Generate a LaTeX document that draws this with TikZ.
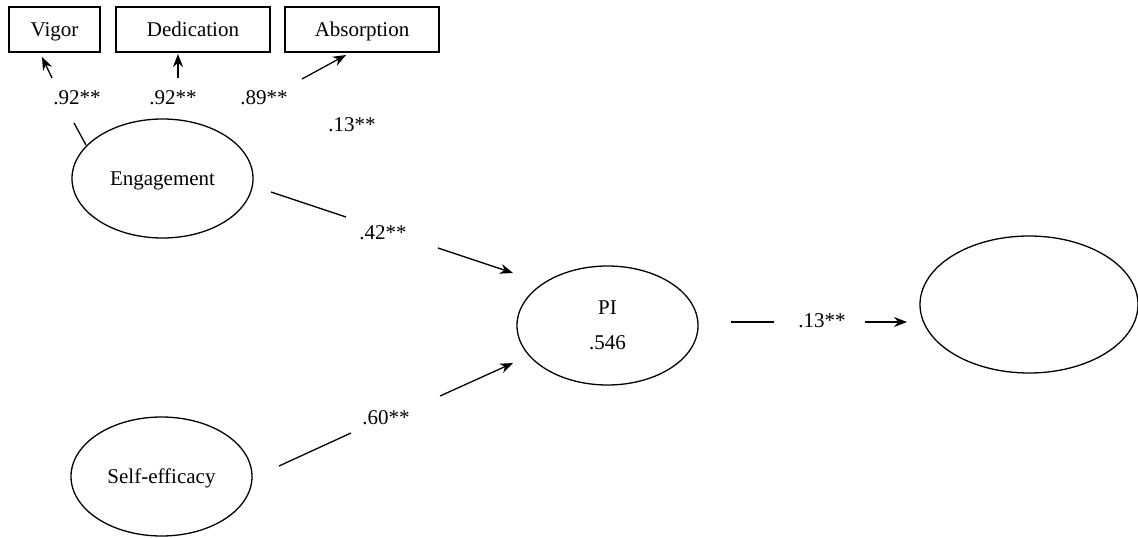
\documentclass[tikz,border=0pt]{standalone}
\usepackage{fontspec}
\setmainfont{Liberation Serif}
\usepackage{tikz}
\usetikzlibrary{shapes.geometric,arrows.meta}
\tikzstyle{sem}=[
  x=1pt,y=-1pt,line width=1.3pt,font=\fontsize{21}{25}\selectfont,
  >={Stealth[length=13pt,width=10pt]}
]
\tikzstyle{item}=[
  draw,rectangle,inner sep=0pt,minimum height=45pt,text depth=0pt
]
\tikzstyle{latent}=[
  draw,ellipse,inner sep=0pt,minimum width=181pt,minimum height=119pt,text depth=0pt
]
\tikzstyle{coef}=[
  inner sep=0pt,text depth=0pt
]

\begin{document}
\begin{tikzpicture}[sem]
  \useasboundingbox (0,0) rectangle (1138,538);
  % indicators
  \node (vig) at (54.5,29.5) [item,minimum width=91pt] {Vigor};
  \node (ded) at (193,29.5) [item,minimum width=154pt] {Dedication};
  \node (abs) at (362,29.5) [item,minimum width=154pt] {Absorption};
  % latent variables
  \node (eng) at (162.5,178.5) [latent] {Engagement};
  \node (se) at (161.5,476.5) [latent] {Self-efficacy};
  \node (pi) at (607.5,325.5) [latent,align=center] {PI\\[10pt].546};
  \node (out) at (1029,304.5) [latent,minimum width=218pt,minimum height=137pt] {};
  % coefficients
  \node (c1) at (77,98) [coef] {.92**};
  \node (c2) at (173,98) [coef] {.92**};
  \node (c3) at (264,98) [coef] {.89**};
  \node (c4) at (352,125) [coef] {.13**};
  \node (c5) at (383,233) [coef] {.42**};
  \node (c6) at (386,418) [coef] {.60**};
  \node (c7) at (822,321) [coef] {.13**};
  % gap ends
  \coordinate (v0) at (86,145); \coordinate (v1) at (74,123);
  \coordinate (v2) at (52,78); \coordinate (v3) at (42,57);
  \coordinate (d2) at (178,78); \coordinate (d3) at (178,54);
  \coordinate (a2) at (302,79); \coordinate (a3) at (346,55);
  \coordinate (e0) at (271,192); \coordinate (e1) at (346,217);
  \coordinate (e2) at (438,248); \coordinate (e3) at (513,273);
  \coordinate (s0) at (279,466); \coordinate (s1) at (351,433);
  \coordinate (s2) at (440,396); \coordinate (s3) at (513,363);
  \coordinate (p0) at (731,322); \coordinate (p1) at (774,322);
  \coordinate (p2) at (865,322); \coordinate (p3) at (907,322);
  \draw (v0) -- (v1);
  \draw [->] (v2) -- (v3);
  \draw [->] (d2) -- (d3);
  \draw [->] (a2) -- (a3);
  \draw (e0) -- (e1);
  \draw [->] (e2) -- (e3);
  \draw (s0) -- (s1);
  \draw [->] (s2) -- (s3);
  \draw (p0) -- (p1);
  \draw [->] (p2) -- (p3);
\end{tikzpicture}
\end{document}
